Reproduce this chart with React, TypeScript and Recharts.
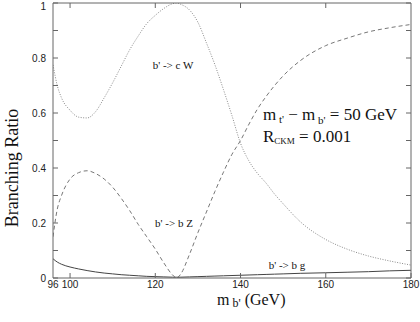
import React from 'react';
import { LineChart, Line, XAxis, YAxis } from 'recharts';

// b' mass (GeV)
const mass = [96, 97, 98, 100, 102, 104, 106, 108, 110, 112, 114, 116, 118, 120, 122, 124, 125, 126, 128, 130, 132, 134, 136, 138, 140, 142, 144, 146, 148, 150, 154, 160, 165, 170, 175, 180];
// BR(b' -> c W)
const brCW = [0.775, 0.7, 0.655, 0.61, 0.585, 0.582, 0.605, 0.655, 0.71, 0.77, 0.83, 0.88, 0.925, 0.955, 0.98, 0.997, 1.0, 0.995, 0.975, 0.93, 0.855, 0.775, 0.685, 0.59, 0.49, 0.425, 0.38, 0.345, 0.305, 0.27, 0.205, 0.14, 0.105, 0.08, 0.062, 0.047];
// BR(b' -> b Z)
const brBZ = [0.15, 0.25, 0.3, 0.36, 0.383, 0.39, 0.38, 0.36, 0.33, 0.29, 0.245, 0.195, 0.15, 0.105, 0.055, 0.012, 0.0, 0.015, 0.085, 0.165, 0.24, 0.315, 0.385, 0.45, 0.5, 0.56, 0.615, 0.66, 0.7, 0.735, 0.79, 0.845, 0.872, 0.895, 0.91, 0.922];
// BR(b' -> b g)
const brBG = [0.07, 0.058, 0.05, 0.04, 0.033, 0.027, 0.022, 0.018, 0.015, 0.012, 0.01, 0.008, 0.006, 0.005, 0.004, 0.003, 0.003, 0.003, 0.004, 0.005, 0.006, 0.007, 0.008, 0.009, 0.01, 0.011, 0.012, 0.013, 0.014, 0.015, 0.017, 0.019, 0.021, 0.023, 0.026, 0.028];

const xTicks = [96, 100, 120, 140, 160, 180];
const xTopTicks = [100, 120, 140, 160];
const yTicks = [0, 0.1, 0.2, 0.3, 0.4, 0.5, 0.6, 0.7, 0.8, 0.9, 1];
const yLabelTicks = [0, 0.2, 0.4, 0.6, 0.8, 1];

const data = mass.map((m, i) => ({ m, cw: brCW[i], bz: brBZ[i], bg: brBG[i] }));

const frame = '#666';
const sans = 'Liberation Sans, Arial, sans-serif';
const serif = 'Liberation Serif, Times New Roman, serif';
const TL = 5;

const BottomTick = (p: any) => {
  const { x, y, payload } = p;
  const v = payload.value;
  return (
    <g>
      {v !== 96 && <line x1={x} x2={x} y1={y} y2={y - TL} stroke={frame} />}
      <text x={x} y={y + 10} textAnchor="middle" fontFamily={sans} fontSize={10} fill="#222">{v}</text>
    </g>
  );
};

const LeftTick = (p: any) => {
  const { x, y, payload } = p;
  const v = payload.value;
  const show = yLabelTicks.some((t) => Math.abs(t - v) < 1e-6);
  return (
    <g>
      <line x1={x} x2={x + TL} y1={y} y2={y} stroke={frame} />
      {show && (
        <text x={x - 7} y={Math.max(y + 3.5, 10)} textAnchor="end" fontFamily={sans} fontSize={10} fill="#222">{String(v)}</text>
      )}
    </g>
  );
};

const TopTick = (p: any) => {
  const { x, y } = p;
  return <line x1={x} x2={x} y1={y} y2={y + TL} stroke={frame} />;
};

const RightTick = (p: any) => {
  const { x, y } = p;
  return <line x1={x} x2={x - TL} y1={y} y2={y} stroke={frame} />;
};

export default function App() {
  return (
    <div style={{ position: 'absolute', left: 0, top: 0, width: 420, height: 322, background: '#fff' }}>
      <LineChart width={420} height={322} data={data} margin={{ top: 2, right: 8, bottom: 14, left: 0 }}>
        <XAxis
          xAxisId="b"
          dataKey="m"
          type="number"
          domain={[96, 180]}
          allowDataOverflow
          ticks={xTicks}
          height={30}
          tickSize={0}
          tickMargin={0}
          tickLine={false}
          stroke={frame}
          tick={<BottomTick />}
          interval={0}
        />
        <XAxis
          xAxisId="t"
          dataKey="m"
          type="number"
          orientation="top"
          domain={[96, 180]}
          allowDataOverflow
          ticks={xTopTicks}
          height={1}
          tickSize={0}
          tickMargin={0}
          tickLine={false}
          stroke={frame}
          tick={<TopTick />}
          interval={0}
        />
        <YAxis
          yAxisId="l"
          type="number"
          domain={[0, 1]}
          allowDataOverflow
          ticks={yTicks}
          width={53}
          tickSize={0}
          tickMargin={0}
          tickLine={false}
          stroke={frame}
          tick={<LeftTick />}
          interval={0}
        />
        <YAxis
          yAxisId="r"
          orientation="right"
          type="number"
          domain={[0, 1]}
          allowDataOverflow
          ticks={yTicks}
          width={1}
          tickSize={0}
          tickMargin={0}
          tickLine={false}
          stroke={frame}
          tick={<RightTick />}
          interval={0}
        />
        <Line xAxisId="b" yAxisId="l" dataKey="cw" type="monotone" stroke="#8a8a8a" strokeWidth={1} strokeDasharray="1 1.5" dot={false} isAnimationActive={false} />
        <Line xAxisId="b" yAxisId="l" dataKey="bz" type="monotone" stroke="#777" strokeWidth={1} strokeDasharray="4 3" dot={false} isAnimationActive={false} />
        <Line xAxisId="b" yAxisId="l" dataKey="bg" type="monotone" stroke="#444" strokeWidth={1} dot={false} isAnimationActive={false} />
      </LineChart>
      <svg width={420} height={322} style={{ position: 'absolute', left: 0, top: 0, pointerEvents: 'none' }}>
        <g fontFamily={serif} fill="#111">
          <text x={173} y={69} fontSize={11} textAnchor="middle">b' -&gt; c W</text>
          <text x={174} y={227} fontSize={11} textAnchor="middle">b' -&gt; b Z</text>
          <text x={287} y={269} fontSize={11} textAnchor="middle">b' -&gt; b g</text>
          <text x={263} y={120} fontSize={17}>
            m<tspan fontSize={11} dy={3}> t'</tspan>
            <tspan dy={-3}> − m</tspan>
            <tspan fontSize={11} dy={4}> b'</tspan>
            <tspan dy={-4}> = 50 GeV</tspan>
          </text>
          <text x={263} y={142} fontSize={17}>
            R<tspan fontSize={9} dy={2}>CKM</tspan>
            <tspan dy={-2}> = 0.001</tspan>
          </text>
          <text x={217} y={305} fontSize={16}>
            m<tspan fontSize={12} dy={2}> b'</tspan>
            <tspan dy={-2}> (GeV)</tspan>
          </text>
          <text x={0} y={0} fontSize={18} textAnchor="middle" transform="translate(18,168) rotate(-90)">Branching Ratio</text>
        </g>
      </svg>
    </div>
  );
}
